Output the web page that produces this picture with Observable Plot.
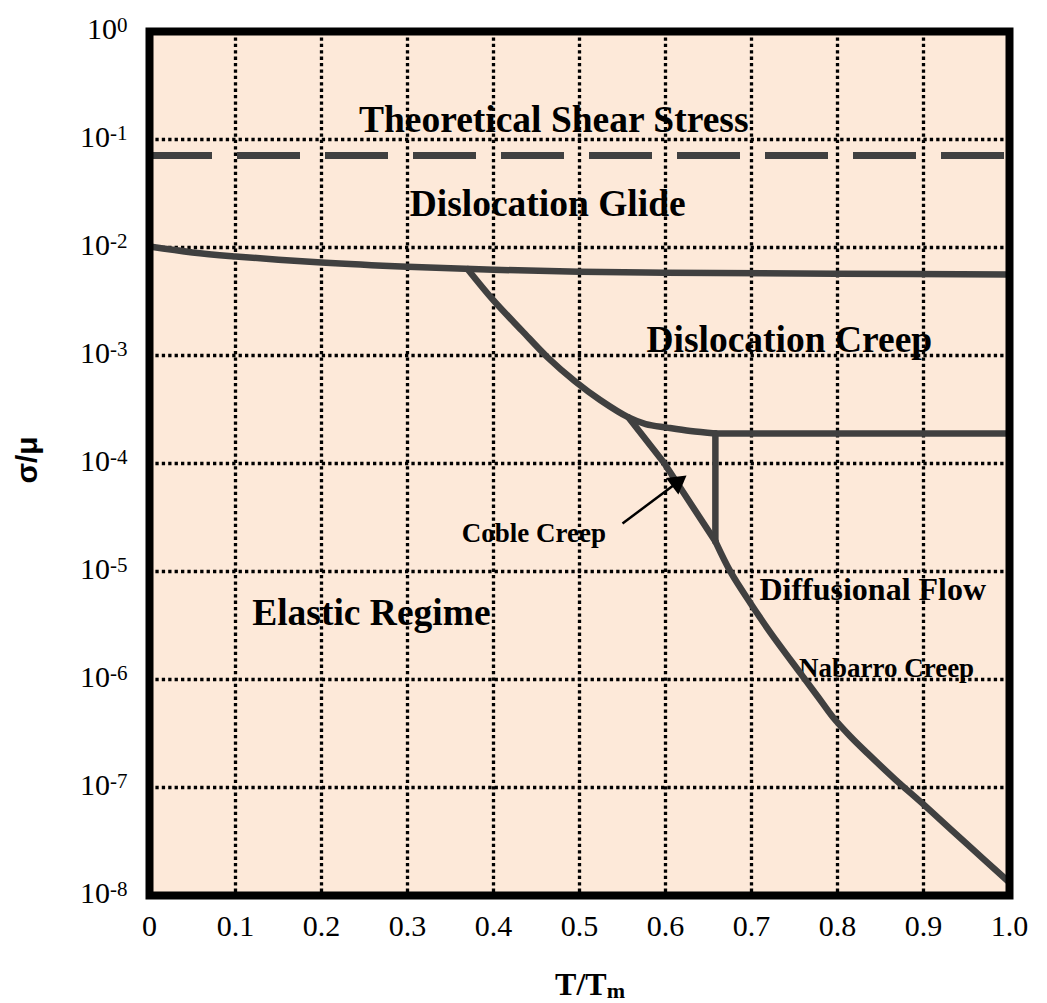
<!DOCTYPE html>
<html><head><meta charset="utf-8">
<script src="https://cdn.jsdelivr.net/npm/d3@7"></script>
<script src="https://cdn.jsdelivr.net/npm/@observablehq/plot@0.6"></script>
<style>body{margin:0;background:#fff}</style>
</head><body><div id="chart"></div>
<script>
// ---- data ----
const xTicks = [0, 0.1, 0.2, 0.3, 0.4, 0.5, 0.6, 0.7, 0.8, 0.9, 1.0];
const yTicks = [1, 1e-1, 1e-2, 1e-3, 1e-4, 1e-5, 1e-6, 1e-7, 1e-8];
const gridX = [0.1, 0.2, 0.3, 0.4, 0.5, 0.6, 0.7, 0.8, 0.9];
const gridY = [1e-1, 1e-2, 1e-3, 1e-4, 1e-5, 1e-6, 1e-7];

const theoreticalShear = [0.071];

const glideT = [0, 0.05, 0.1, 0.15, 0.2, 0.3, 0.4, 0.5, 0.6, 0.8, 1.0];
const glideS = [0.0102, 0.0090, 0.00826, 0.00771, 0.00726, 0.00663, 0.00622, 0.00597, 0.00583, 0.00571, 0.00562];

const creepT = [0.37, 0.400, 0.433, 0.463, 0.495, 0.524, 0.557, 0.577, 0.602, 0.629, 0.658];
const creepS = [0.0063, 3.24e-3, 1.70e-3, 9.58e-4, 5.74e-4, 3.87e-4, 2.67e-4, 2.32e-4, 2.15e-4, 2.0e-4, 1.9e-4];

const diffTopT = [0.658, 1.0];
const diffTopS = [1.9e-4, 1.9e-4];

const vertT = [0.658, 0.658];
const vertS = [1.9e-4, 1.9e-5];

const cobleT = [0.557, 0.598, 0.658];
const cobleS = [2.67e-4, 1.02e-4, 1.9e-5];

const nabarroT = [0.658, 0.676, 0.699, 0.722, 0.757, 0.777, 0.795, 0.815, 0.835, 0.867, 0.900, 0.951, 1.0];
const nabarroS = [1.9e-5, 9.8e-6, 5.06e-6, 2.72e-6, 1.14e-6, 6.96e-7, 4.45e-7, 2.97e-7, 2.07e-7, 1.19e-7, 6.97e-8, 2.97e-8, 1.32e-8];

const arrowT = [0.550, 0.6133];
const arrowS = [2.78e-5, 6.64e-5];

const labelText = ["Theoretical Shear Stress", "Dislocation Glide", "Dislocation Creep", "Elastic Regime", "Diffusional Flow", "Nabarro Creep", "Coble Creep"];
const labelT = [0.470, 0.463, 0.744, 0.258, 0.841, 0.857, 0.447];
const labelS = [0.153, 0.0255, 1.38e-3, 4.17e-6, 6.8e-6, 1.26e-6, 2.25e-5];
const labelSize = [37.5, 37.5, 37.5, 37.5, 32, 27, 27];

// ---- build ----
const pts = (T, S) => T.map((t, i) => ({t, s: S[i]}));
const labels = labelText.map((txt, i) => ({txt, t: labelT[i], s: labelS[i], size: labelSize[i]}));
const lineColor = "#404040";
const lineOpts = {x: "t", y: "s", stroke: lineColor, strokeWidth: 6.5, strokeLinejoin: "round"};
const dotted = {stroke: "black", strokeWidth: 3.3, strokeDasharray: "3.3,3.1"};
const serif = "'Liberation Serif', 'Times New Roman', serif";
const tickFont = 30;

const plot = Plot.plot({
  width: 1047, height: 1003,
  marginLeft: 149, marginRight: 38, marginTop: 31, marginBottom: 108,
  style: {fontFamily: serif, fontSize: tickFont + "px", background: "white", color: "black", overflow: "visible"},
  x: {domain: [0, 1], ticks: xTicks, tickFormat: d => d === 0 ? "0" : d.toFixed(1), tickSize: 0, tickPadding: 19, label: null},
  y: {type: "log", domain: [1e-8, 1], ticks: yTicks, tickFormat: d => String(Math.round(Math.log10(d))), tickSize: 0, tickPadding: 22, label: null},
  marks: [
    Plot.frame({fill: "#fde9d9"}),
    ...labels.map(l => Plot.text([l], {x: "t", y: "s", text: "txt", fontSize: l.size, fontWeight: "bold", fill: "black", fontFamily: serif})),
    Plot.ruleY(gridY, dotted),
    Plot.ruleX(gridX, dotted),
    Plot.ruleY(theoreticalShear, {stroke: lineColor, strokeWidth: 7, strokeDasharray: "63,25"}),
    Plot.line(pts(glideT, glideS), {...lineOpts, curve: "monotone-x"}),
    Plot.line(pts(creepT, creepS), {...lineOpts, curve: "catmull-rom"}),
    Plot.line(pts(diffTopT, diffTopS), lineOpts),
    Plot.line(pts(vertT, vertS), lineOpts),
    Plot.line(pts(cobleT, cobleS), {...lineOpts, curve: "linear"}),
    Plot.line(pts(nabarroT, nabarroS), {...lineOpts, curve: "catmull-rom"}),
    Plot.link([0], {x1: () => arrowT[0], y1: () => arrowS[0], x2: () => arrowT[1], y2: () => arrowS[1], stroke: "black", strokeWidth: 2.5}),
    Plot.dot([0], {x: () => arrowT[1], y: () => arrowS[1], symbol: "triangle", r: 7.7, fill: "black", rotate: 53}),
    Plot.frame({stroke: "black", strokeWidth: 8})
  ]
});

document.getElementById("chart").appendChild(plot);

const svg = d3.select(plot.tagName.toLowerCase() === "svg" ? plot : plot.querySelector("svg"));

// ---- tick label sizes ----
svg.selectAll('g[aria-label="x-axis tick label"], g[aria-label="y-axis tick label"], g[aria-label="x-axis"], g[aria-label="y-axis"]')
  .attr("font-size", tickFont).attr("font-family", serif);
svg.selectAll('g[aria-label="x-axis tick label"] text, g[aria-label="x-axis"] .tick text')
  .attr("font-size", tickFont).style("font-size", tickFont + "px");

// ---- superscripts on y tick labels ----
svg.selectAll('g[aria-label="y-axis tick label"] text, g[aria-label="y-axis"] .tick text').each(function () {
  const e = this.textContent;
  this.textContent = "10";
  d3.select(this).attr("font-size", tickFont).style("font-size", tickFont + "px").attr("dy", null).attr("y", "0.24em");
  d3.select(this).append("tspan").attr("font-size", 21).style("font-size", "21px").attr("dy", -7).text(e);
});

// ---- axis titles ----
const xs = plot.scale("x"), ys = plot.scale("y");
const xt = svg.append("text")
  .attr("x", xs.apply(0.5) + 11).attr("y", 995)
  .attr("text-anchor", "middle").attr("font-family", serif)
  .attr("font-weight", "bold").attr("font-size", 32).attr("fill", "black");
xt.append("tspan").text("T/T");
xt.append("tspan").attr("font-size", 22).attr("dy", 3).text("m");

svg.append("text")
  .attr("transform", `translate(37,${ys.apply(1e-4) - 3}) rotate(-90)`)
  .attr("text-anchor", "middle").attr("font-family", "'Liberation Sans', Arial, sans-serif")
  .attr("font-weight", "bold").attr("font-size", 30).attr("fill", "black")
  .text("σ/μ");
</script>
</body></html>
